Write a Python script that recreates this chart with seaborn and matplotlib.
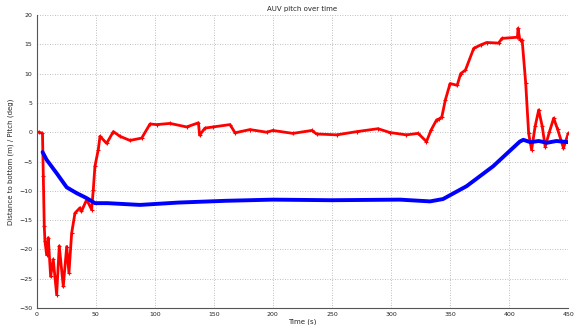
import matplotlib
matplotlib.use("Agg")
import matplotlib.pyplot as plt
import seaborn as sns
import pandas as pd

# Pitch (deg), red series
pitch_t = [0, 2, 5, 5.7, 6.5, 7.1, 8.5, 9.9, 11.9, 14.1, 17, 19.2, 22.6, 25.5, 27.4, 29.7,
           32.5, 36.7, 38, 42.4, 46.6, 48, 49.4, 52.2, 53.7, 59.3, 65, 70.6, 79, 89, 96,
           101.6, 113, 127, 137, 138, 142.5, 149.5, 163.7, 168, 180.6, 194.7, 200, 217,
           233, 237, 254, 271, 289, 299, 313, 323, 330, 334, 338.6, 341, 343, 346, 350,
           356, 359, 363, 370, 376, 381, 391, 394, 407, 407.5, 409, 411, 414, 416.5, 419,
           422, 425, 428, 430.5, 434, 437.7, 441, 446, 450]
pitch_v = [0, 0, -0.2, -7.5, -16, -18.6, -20.9, -18, -24.6, -21.7, -27.7, -19.4, -26.3,
           -19.5, -24, -17.2, -13.8, -12.9, -13.5, -11.5, -13.2, -9.8, -5.8, -3, -0.7,
           -1.9, 0.1, -0.7, -1.4, -1, 1.4, 1.3, 1.5, 0.9, 1.6, -0.5, 0.7, 0.9, 1.3, -0.1,
           0.45, 0.0, 0.3, -0.2, 0.3, -0.3, -0.45, 0.1, 0.6, -0.05, -0.45, -0.2, -1.6, 0.4,
           2.1, 2.3, 2.6, 5.5, 8.3, 8, 10, 10.6, 14.3, 14.9, 15.3, 15.2, 16, 16.2, 17.7,
           15.8, 15.7, 8.4, -0.2, -3, 1, 3.8, 1, -2.5, 0, 2.4, 0.5, -2.7, -0.2]

# Distance to bottom (m), blue series
dist_t = [5.1, 8.5, 17, 25.5, 34, 42, 49.4, 60, 87.5, 120, 160, 200, 250, 307.6, 333,
          344, 364, 386.5, 409, 412, 418, 425, 432, 440, 450]
dist_v = [-3.4, -4.7, -7, -9.4, -10.4, -11.2, -12.1, -12.1, -12.4, -12.0, -11.7, -11.5,
          -11.6, -11.5, -11.8, -11.4, -9.2, -5.8, -1.6, -1.3, -1.7, -1.5, -1.8, -1.5, -1.7]

x_ticks = [0, 50, 100, 150, 200, 250, 300, 350, 400, 450]
y_ticks = [-30, -25, -20, -15, -10, -5, 0, 5, 10, 15, 20]

sns.set_theme(style="white")
plt.rcParams['font.family'] = ['DejaVu Sans']

fig = plt.figure(figsize=(5.76, 3.25), dpi=100)
ax = fig.add_axes([0.0635, 0.052, 0.923, 0.902])

pitch_df = pd.DataFrame({"t": pitch_t, "v": pitch_v})
dist_df = pd.DataFrame({"t": dist_t, "v": dist_v})

sns.lineplot(data=pitch_df, x="t", y="v", ax=ax, color="red", linewidth=2.0,
             marker="+", markersize=2.5, markeredgewidth=0.8, markeredgecolor="red")
sns.lineplot(data=dist_df, x="t", y="v", ax=ax, color="blue", linewidth=2.8)

ax.set_xlim(0, 450)
ax.set_ylim(-30, 20)
ax.set_xticks(x_ticks)
ax.set_yticks(y_ticks)
ax.grid(True, linestyle=(0, (1, 2)), color="#aaaaaa", linewidth=0.6)
for s in ["top", "right"]:
    ax.spines[s].set_visible(False)
for s in ["left", "bottom"]:
    ax.spines[s].set_color("#555555")
    ax.spines[s].set_linewidth(0.8)
ax.tick_params(direction="in", length=3, width=0.6, color="#555555",
               labelsize=4.5, pad=3, labelcolor="#222222")
ax.set_title("AUV pitch over time", fontsize=5, pad=3)
ax.set_xlabel("Time (s)", fontsize=5, labelpad=1)
ax.set_ylabel("Distance to bottom (m) / Pitch (deg)", fontsize=5, labelpad=4)

fig.savefig("out.png", dpi=100)
